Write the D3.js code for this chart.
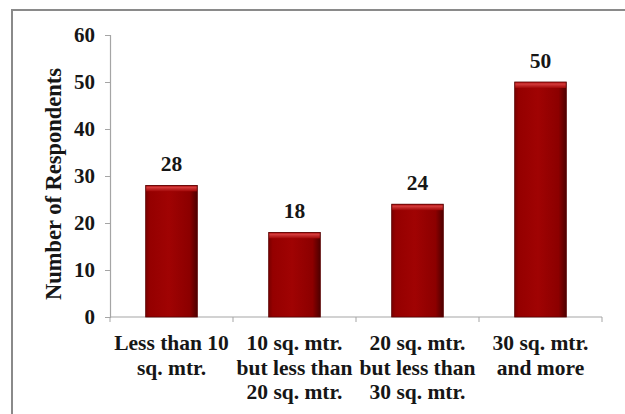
<!DOCTYPE html>
<html>
<head>
<meta charset="utf-8">
<script src="https://cdn.jsdelivr.net/npm/d3@7"></script>
<style>
  html, body { margin: 0; padding: 0; background: #fff; }
  svg { display: block; }
  text { font-family: "Liberation Serif", "Times New Roman", serif; font-weight: bold; fill: #161616; }
</style>
</head>
<body>
<svg id="chart" width="625" height="414"></svg>
<script>
// Floor area categories (each label split into display lines)
const categories = [
  ["Less than 10", "sq. mtr."],
  ["10 sq. mtr.", "but less than", "20 sq. mtr."],
  ["20 sq. mtr.", "but less than", "30 sq. mtr."],
  ["30 sq. mtr.", "and more"]
];
const respondents = [28, 18, 24, 50];
const yTicks = [0, 10, 20, 30, 40, 50, 60];
const yTitle = "Number of Respondents";

const svg = d3.select("#chart");

// outer frame (runs off the right and bottom edges)
svg.append("rect")
  .attr("x", 12).attr("y", 10)
  .attr("width", 640).attr("height", 430)
  .attr("fill", "#fff")
  .attr("stroke", "#8a8a8a").attr("stroke-width", 2);

const plot = { left: 110, right: 602, top: 35, bottom: 317 };

const x = d3.scaleBand()
  .domain(d3.range(categories.length))
  .range([plot.left, plot.right])
  .padding(0);

const y = d3.scaleLinear()
  .domain([0, 60])
  .range([plot.bottom, plot.top]);

// gradients for the bevelled bars
const defs = svg.append("defs");
const body = defs.append("linearGradient").attr("id", "barBody")
  .attr("x1", "0%").attr("x2", "100%").attr("y1", "0%").attr("y2", "0%");
[["0%", "#7a0000"], ["8%", "#950000"], ["45%", "#a00303"], ["85%", "#8c0000"], ["100%", "#4e0000"]]
  .forEach(([o, c]) => body.append("stop").attr("offset", o).attr("stop-color", c));
const cap = defs.append("linearGradient").attr("id", "barCap")
  .attr("x1", "0%").attr("x2", "0%").attr("y1", "0%").attr("y2", "100%");
[["0%", "#b01010"], ["35%", "#d23a3a"], ["100%", "#a00606"]]
  .forEach(([o, c]) => cap.append("stop").attr("offset", o).attr("stop-color", c));

// y axis
const yAxis = svg.append("g")
  .attr("transform", `translate(${plot.left},0)`)
  .call(d3.axisLeft(y).tickValues(yTicks).tickSize(5).tickPadding(10).tickFormat(d3.format("d")));
yAxis.select(".domain").attr("stroke", "#a5a5a5").attr("stroke-width", 1.2);
yAxis.selectAll(".tick line").attr("stroke", "#a5a5a5");
yAxis.selectAll(".tick text")
  .attr("font-size", 21).attr("font-family", null).attr("fill", "#161616");

// x axis with ticks at band boundaries
const xAxisG = svg.append("g").attr("transform", `translate(0,${plot.bottom})`);
xAxisG.append("line")
  .attr("x1", plot.left).attr("x2", plot.right)
  .attr("stroke", "#a5a5a5").attr("stroke-width", 1.2);
const bounds = d3.range(categories.length + 1).map(i => i < categories.length ? x(i) : x(i - 1) + x.bandwidth());
xAxisG.selectAll("line.tk").data(bounds).join("line")
  .attr("class", "tk")
  .attr("x1", d => d).attr("x2", d => d)
  .attr("y1", 0).attr("y2", 5)
  .attr("stroke", "#a5a5a5");

// category labels
const catG = svg.append("g");
categories.forEach((lines, i) => {
  const t = catG.append("text")
    .attr("text-anchor", "middle")
    .attr("font-size", 21.5)
    .attr("x", x(i) + x.bandwidth() / 2)
    .attr("y", plot.bottom + 33);
  lines.forEach((ln, j) => {
    t.append("tspan")
      .attr("x", x(i) + x.bandwidth() / 2)
      .attr("dy", j === 0 ? 0 : 24.5)
      .text(ln);
  });
});

// bars
const barW = x.bandwidth() * 0.42;
const bars = svg.append("g").selectAll("g").data(respondents).join("g")
  .attr("transform", (d, i) => `translate(${x(i) + (x.bandwidth() - barW) / 2},0)`);
bars.append("rect")
  .attr("x", 0).attr("width", barW)
  .attr("y", d => y(d)).attr("height", d => y(0) - y(d))
  .attr("fill", "url(#barBody)");
bars.append("rect")
  .attr("x", 0.5).attr("width", barW - 1)
  .attr("y", d => y(d)).attr("height", 6)
  .attr("fill", "url(#barCap)");
bars.append("rect")
  .attr("x", 0).attr("width", barW)
  .attr("y", d => y(d)).attr("height", d => y(0) - y(d))
  .attr("fill", "none").attr("stroke", "#5a0000").attr("stroke-width", 0.8);

// value labels
svg.append("g").selectAll("text").data(respondents).join("text")
  .attr("text-anchor", "middle")
  .attr("font-size", 21.5)
  .attr("x", (d, i) => x(i) + x.bandwidth() / 2)
  .attr("y", d => y(d) - 14)
  .text(d => d);

// y axis title
svg.append("text")
  .attr("text-anchor", "middle")
  .attr("font-size", 22.5)
  .attr("transform", "translate(61,184) rotate(-90)")
  .text(yTitle);
</script>
</body>
</html>
